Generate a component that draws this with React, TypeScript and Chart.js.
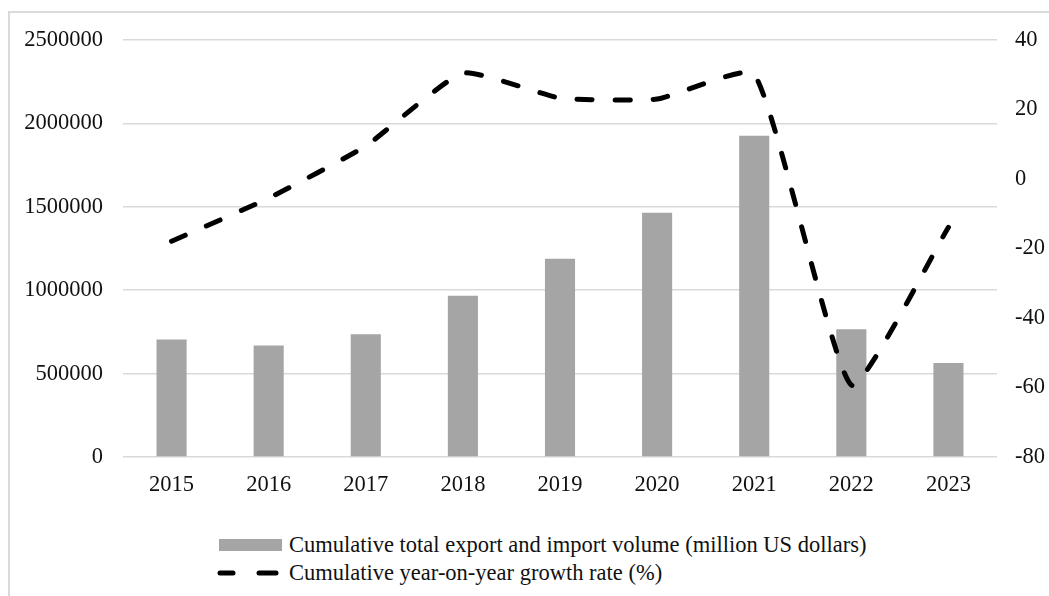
import React, { useEffect, useRef } from "react";
import { Chart, registerables } from "chart.js";

Chart.register(...registerables);

const categories = ["2015", "2016", "2017", "2018", "2019", "2020", "2021", "2022", "2023"];
const volumeValues = [704000, 668000, 736000, 966000, 1188000, 1464000, 1926000, 766000, 564000];
const growthValues = [-17.9, -5.5, 9.5, 30.5, 23.3, 23.0, 30.2, -59.3, -13.9];
const volumeLabel = "Cumulative total export and import volume (million US dollars)";
const growthLabel = "Cumulative year-on-year growth rate (%)";

const FONT = "'Liberation Serif', 'Times New Roman', serif";
const FONT_SIZE = 22.5;
const TEXT_COLOR = "#111";
const GRID_COLOR = "#d9d9d9";
const BAR_COLOR = "#a5a5a5";

export default function App() {
  const canvasRef = useRef<HTMLCanvasElement | null>(null);

  useEffect(() => {
    const canvas = canvasRef.current;
    if (!canvas) return;
    const chart = new Chart(canvas, {
      type: "bar",
      data: {
        labels: categories,
        datasets: [
          {
            type: "bar",
            label: volumeLabel,
            data: volumeValues,
            backgroundColor: BAR_COLOR,
            borderWidth: 0,
            yAxisID: "y",
            order: 1,
            categoryPercentage: 1,
            barPercentage: 0.31,
          },
          {
            type: "line",
            label: growthLabel,
            data: growthValues,
            borderColor: "#000",
            backgroundColor: "#000",
            borderWidth: 5,
            borderDash: [15, 23],
            borderCapStyle: "round",
            pointRadius: 0,
            tension: 0.15,
            fill: false,
            yAxisID: "y1",
            order: 0,
          },
        ],
      },
      options: {
        responsive: false,
        animation: false,
        devicePixelRatio: 1,
        layout: { padding: { top: 40, left: 0, right: 0, bottom: 0 } },
        plugins: {
          legend: { display: false },
          tooltip: { enabled: false },
        },
        scales: {
          x: {
            grid: { display: false },
            border: { display: false },
            ticks: {
              color: TEXT_COLOR,
              font: { family: FONT, size: FONT_SIZE },
              padding: 7,
              maxRotation: 0,
            },
            afterFit: (scale: any) => {
              scale.height = 43;
            },
          },
          y: {
            position: "left",
            min: 0,
            max: 2500000,
            grid: { color: GRID_COLOR, lineWidth: 1.5, drawTicks: false },
            border: { display: false },
            ticks: {
              stepSize: 500000,
              color: TEXT_COLOR,
              font: { family: FONT, size: FONT_SIZE },
              padding: 20,
              callback: (v: any) => String(v),
            },
            afterFit: (scale: any) => {
              scale.width = 123;
            },
          },
          y1: {
            position: "right",
            min: -80,
            max: 40,
            grid: { display: false, drawTicks: false },
            border: { display: false },
            ticks: {
              stepSize: 20,
              color: TEXT_COLOR,
              font: { family: FONT, size: FONT_SIZE },
              padding: 18,
              callback: (v: any) => String(v),
            },
            afterFit: (scale: any) => {
              scale.width = 52;
            },
          },
        },
      },
    });
    return () => chart.destroy();
  }, []);

  return (
    <div
      style={{
        position: "absolute",
        left: 0,
        top: 0,
        width: 1049,
        height: 596,
        overflow: "hidden",
        background: "#fff",
      }}
    >
      <div
        style={{
          position: "absolute",
          left: 8,
          top: 11,
          width: 1200,
          height: 800,
          borderTop: `2px solid ${GRID_COLOR}`,
          borderLeft: `2px solid ${GRID_COLOR}`,
        }}
      />
      <canvas
        ref={canvasRef}
        width={1049}
        height={500}
        style={{ position: "absolute", left: 0, top: 0, width: 1049, height: 500 }}
      />
      <div
        style={{
          position: "absolute",
          left: 217,
          top: 531,
          fontFamily: FONT,
          fontSize: FONT_SIZE,
          color: TEXT_COLOR,
          lineHeight: "28px",
        }}
      >
        <div style={{ display: "flex", alignItems: "center", height: 28, whiteSpace: "nowrap" }}>
          <div style={{ width: 63, height: 12, background: BAR_COLOR, marginLeft: 2, marginRight: 7 }} />
          <span>{volumeLabel}</span>
        </div>
        <div style={{ display: "flex", alignItems: "center", height: 28, whiteSpace: "nowrap" }}>
          <svg width={64} height={28} style={{ marginRight: 8, display: "block" }}>
            <line x1={3} y1={14} x2={16} y2={14} stroke="#000" strokeWidth={5} strokeLinecap="round" />
            <line x1={42} y1={14} x2={59} y2={14} stroke="#000" strokeWidth={5} strokeLinecap="round" />
          </svg>
          <span>{growthLabel}</span>
        </div>
      </div>
    </div>
  );
}
